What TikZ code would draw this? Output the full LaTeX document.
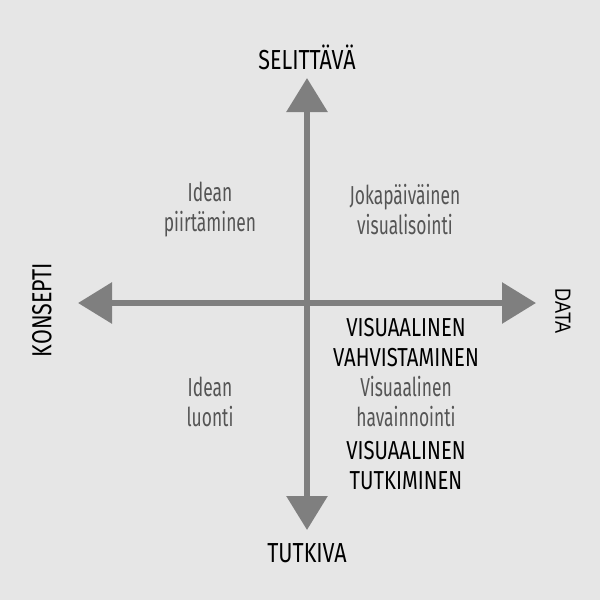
\documentclass[tikz,border=0pt]{standalone}
\usepackage{fontspec}
\usepackage{xcolor}
\usepackage{tikz}
\usetikzlibrary{arrows.meta}
\setmainfont[FakeStretch=0.78]{Fira Sans}
\newfontfamily\softfont[FakeStretch=0.67]{Fira Sans}
\newfontfamily\datafont[FakeStretch=0.82]{Liberation Sans}
\definecolor{paper}{HTML}{E6E6E6}
\definecolor{axisgray}{HTML}{7F7F7F}
\definecolor{textgray}{HTML}{555555}

\begin{document}
\begin{tikzpicture}[
    x=1pt, y=-1pt,
    axis/.style={draw=axisgray, line width=6pt,
      -{Triangle[length=34pt, width=40pt]}},
    pole/.style={font=\fontsize{27.5}{30}\selectfont, text=black},
    area/.style={font=\softfont\fontsize{26}{30}\selectfont, text=textgray, align=center},
    strong/.style={font=\fontsize{26}{30}\selectfont, text=black, align=center}
  ]
      \fill[paper] (0,0) rectangle (600,600);
      \useasboundingbox (0,0) rectangle (600,600);

      % axes
      \coordinate (o) at (307,303);
      \coordinate (up) at (307,78);
      \coordinate (down) at (307,530);
      \coordinate (left) at (78,303);
      \coordinate (right) at (536,303);
      \draw[axis] (o) -- (up);
      \draw[axis] (o) -- (down);
      \draw[axis] (o) -- (left);
      \draw[axis] (o) -- (right);

      % poles
      \node[pole] (selittava) at (307,57) {SELITTÄVÄ};
      \node[pole] (tutkiva) at (307,553) {TUTKIVA};
      \node[pole, rotate=90] (konsepti) at (42,310) {KONSEPTI};
      \node[pole, rotate=-90, font=\datafont\fontsize{22}{26}\selectfont] (data) at (563,311) {DATA};

      % quadrants
      \node[area] (piirt) at (210,210) {Idean\\piirtäminen};
      \node[area] (joka) at (405,210) {Jokapäiväinen\\visualisointi};
      \node[area] (luonti) at (210,402) {Idean\\luonti};
      \node[strong] (vahv) at (406,343) {VISUAALINEN\\VAHVISTAMINEN};
      \node[area] (hava) at (406,402) {Visuaalinen\\havainnointi};
      \node[strong] (tutk) at (406,466) {VISUAALINEN\\TUTKIMINEN};
    \end{tikzpicture}
\end{document}
